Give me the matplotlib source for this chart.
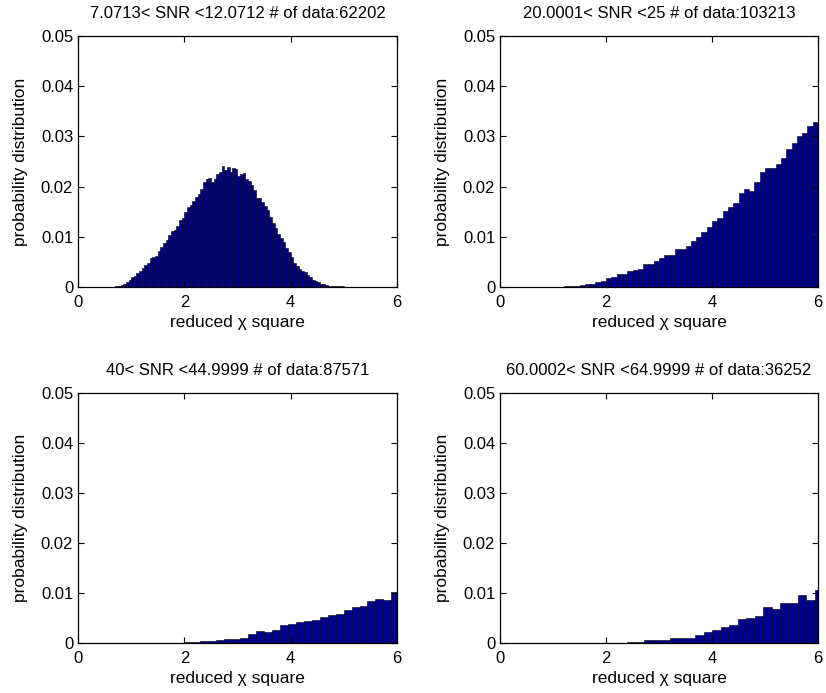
import numpy as np
import matplotlib
matplotlib.use("Agg")
import matplotlib.pyplot as plt

plt.rcParams['font.family'] = ['Liberation Sans', 'DejaVu Sans']

# histogram bin widths and first left edges for each SNR band
tl_width, tl_start = 0.05, 0.0
tr_width, tr_start = 0.1, 0.0
bl_width, bl_start = 0.15, 0.045
br_width, br_start = 0.161, 0.14

# 7.07 < SNR < 12.07
tl_counts = [0] * 14 + [
    0.0001, 0.0002, 0.0004, 0.0006, 0.0009, 0.0013,
    0.0019, 0.0022, 0.0027, 0.0032, 0.0037, 0.0044, 0.0047, 0.0058, 0.0060, 0.0062,
    0.0071, 0.0080, 0.0087, 0.0093, 0.0104, 0.0111, 0.0113, 0.0122, 0.0134, 0.0137,
    0.0149, 0.0160, 0.0164, 0.0172, 0.0180, 0.0186, 0.0196, 0.0209, 0.0215, 0.0217,
    0.0210, 0.0216, 0.0225, 0.0229, 0.0241, 0.0233, 0.0240, 0.0230, 0.0237, 0.0235,
    0.0221, 0.0226, 0.0227, 0.0216, 0.0212, 0.0203, 0.0193, 0.0178, 0.0177, 0.0170,
    0.0161, 0.0153, 0.0139, 0.0128, 0.0118, 0.0106, 0.0098, 0.0090, 0.0077, 0.0070,
    0.0059, 0.0048, 0.0042, 0.0036, 0.0031, 0.0029, 0.0023, 0.0019, 0.0014, 0.0012,
    0.0009, 0.0006, 0.0005, 0.0003, 0.0002, 0.0002, 0.0001, 0.0001, 0.0001, 0.0001,
    0.00008, 0.00008, 0.00006, 0.00005, 0.00005, 0.00004, 0.00003, 0.00002, 0.00002,
    0.00001] + [0] * 13

# 20 < SNR < 25
tr_counts = [0] * 10 + [
    0.00005, 0.00005, 0.0001, 0.0001, 0.0002, 0.0003, 0.0005, 0.0006, 0.0009, 0.0011,
    0.0017, 0.0019, 0.0025, 0.0025, 0.0032, 0.0033, 0.0036, 0.0046, 0.0045, 0.0052,
    0.0057, 0.0063, 0.0063, 0.0076, 0.0076, 0.0082, 0.0091, 0.0100, 0.0109, 0.0119,
    0.0131, 0.0137, 0.0152, 0.0160, 0.0167, 0.0187, 0.0195, 0.0192, 0.0209, 0.0230,
    0.0238, 0.0238, 0.0245, 0.0256, 0.0274, 0.0286, 0.0300, 0.0306, 0.0320, 0.0328]

# 40 < SNR < 45
bl_counts = [0] * 11 + [
    0.00005, 0.0001, 0.0002, 0.0003, 0.0005, 0.0005, 0.0006, 0.0009, 0.0009, 0.0011,
    0.0019, 0.0024, 0.0022, 0.0027, 0.0037, 0.0038, 0.0042, 0.0044, 0.0047, 0.0053,
    0.0057, 0.0059, 0.0066, 0.0072, 0.0075, 0.0084, 0.0089, 0.0086, 0.0102]

# 60 < SNR < 65
br_counts = [0] * 10 + [
    0.00005, 0.00005, 0.00005, 0.0001, 0.0002, 0.0003, 0.0006, 0.0006, 0.0006, 0.0011,
    0.0011, 0.0011, 0.0016, 0.0023, 0.0026, 0.0033, 0.0036, 0.0048, 0.0050, 0.0055,
    0.0073, 0.0069, 0.0080, 0.0080, 0.0096, 0.0086, 0.0106]

titles = [
    "7.0713< SNR <12.0712 # of data:62202",
    "20.0001< SNR <25 # of data:103213",
    "40< SNR <44.9999 # of data:87571",
    "60.0002< SNR <64.9999 # of data:36252",
]

W, H = 826, 693
fig = plt.figure(figsize=(W / 100, H / 100), dpi=100)

# axes boxes in pixels: left, top, right, bottom
boxes = [(78, 36, 397, 287), (500, 36, 818, 287),
         (78, 393, 397, 643), (500, 393, 818, 643)]
hists = [(tl_counts, tl_width, tl_start), (tr_counts, tr_width, tr_start),
         (bl_counts, bl_width, bl_start), (br_counts, br_width, br_start)]

for (l, t, r, b), (counts, width, start), title in zip(boxes, hists, titles):
    ax = fig.add_axes([l / W, 1 - b / H, (r - l) / W, (b - t) / H])
    edges = start + width * np.arange(len(counts))
    ax.bar(edges, counts, width=width, align='edge', color='#00008c',
           edgecolor='black', linewidth=0.4)
    ax.set_xlim(0, 6)
    ax.set_ylim(0, 0.05)
    ax.set_xticks([0, 2, 4, 6])
    ax.set_yticks([0, 0.01, 0.02, 0.03, 0.04, 0.05])
    ax.set_yticklabels(['0', '0.01', '0.02', '0.03', '0.04', '0.05'])
    ax.tick_params(direction='in', top=True, right=True, length=4,
                   width=0.8, labelsize=12)
    ax.tick_params(axis='x', pad=5.5)
    ax.tick_params(axis='y', pad=3.5)
    for s in ax.spines.values():
        s.set_linewidth(0.9)
    ax.set_xlabel('reduced χ square', fontsize=12.5, labelpad=4)
    ax.set_ylabel('probability distribution', fontsize=12.5, labelpad=9)
    ax.set_title(title, fontsize=12, pad=13)

fig.savefig('out.png', dpi=100)
